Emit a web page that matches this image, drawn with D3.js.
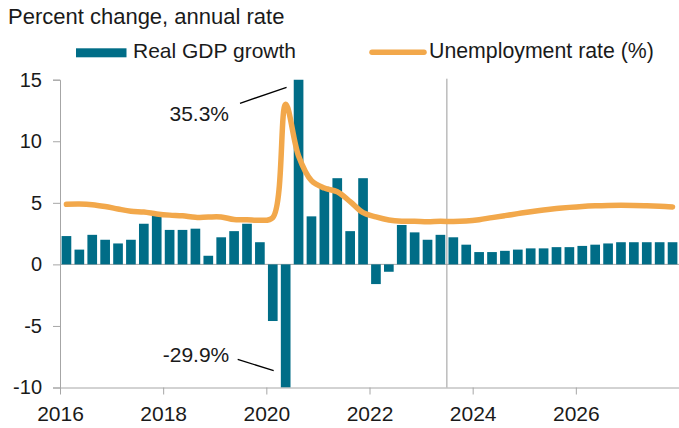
<!DOCTYPE html>
<html>
<head>
<meta charset="utf-8">
<script src="https://cdn.jsdelivr.net/npm/d3@7"></script>
<style>
  html, body { margin: 0; padding: 0; background: #fff; }
  svg { display: block; font-family: "Liberation Sans", Arial, Helvetica, sans-serif; }
</style>
</head>
<body>
<svg id="chart" width="679" height="428"></svg>
<script>
// Quarterly periods, 2016Q1 through 2027Q4
const years = d3.range(2016, 2028);
const quarters = years.flatMap(y => [1, 2, 3, 4].map(q => `${y}Q${q}`));

// Real GDP growth, percent change at an annual rate
const gdpGrowth = [
  2.3, 1.2, 2.4, 2.0,
  1.7, 2.0, 3.3, 4.0,
  2.8, 2.8, 2.9, 0.7,
  2.2, 2.7, 3.3, 1.8,
  -4.6, -29.9, 35.3, 3.9,
  6.3, 7.0, 2.7, 7.0,
  -1.6, -0.6, 3.2, 2.6,
  2.0, 2.4, 2.2, 1.6,
  1.0, 1.0, 1.1, 1.2,
  1.3, 1.3, 1.4, 1.4,
  1.5, 1.6, 1.7, 1.8,
  1.8, 1.8, 1.8, 1.8
];

// Unemployment rate, percent
const unemployment = [
  4.88, 4.9, 4.85, 4.7,
  4.5, 4.32, 4.25, 4.1,
  4.0, 3.95, 3.82, 3.85,
  3.85, 3.64, 3.63, 3.58,
  3.8, 13.0, 8.8, 6.8,
  6.2, 5.9, 5.1, 4.2,
  3.85, 3.6, 3.5, 3.5,
  3.47, 3.5, 3.48, 3.52,
  3.63, 3.8, 3.96, 4.12,
  4.28, 4.42, 4.53, 4.63,
  4.71, 4.76, 4.79, 4.8,
  4.79, 4.77, 4.73, 4.67
];

const yTicks = [-10, -5, 0, 5, 10, 15];
const xTickYears = [2016, 2018, 2020, 2022, 2024, 2026];
const forecastStart = 2023.5;

const title = "Percent change, annual rate";
const seriesNames = ["Real GDP growth", "Unemployment rate (%)"];
const callouts = [
  { quarter: "2020Q3", text: "35.3%" },
  { quarter: "2020Q2", text: "-29.9%" }
];

const BAR = "#006D87";
const LINE = "#F2A84B";
const AXIS = "#A6A6A6";
const TEXT = "#1a1a1a";

const svg = d3.select("#chart");
const plotLeft = 60, plotRight = 679, plotTop = 79.7, plotBottom = 387.5;

const x = d3.scaleBand().domain(quarters).range([plotLeft, plotRight])
  .paddingInner(0.25).paddingOuter(0.125);
const xYear = d3.scaleLinear().domain([2016, 2028]).range([plotLeft, plotRight]);
const y = d3.scaleLinear().domain([-10, 15]).range([plotBottom, plotTop]);

// Title
svg.append("text").attr("x", 8).attr("y", 24.3)
  .attr("font-size", 22).attr("fill", TEXT).text(title);

// Legend
const legend = svg.append("g");
legend.append("rect").attr("x", 76).attr("y", 48.3).attr("width", 50.5).attr("height", 9)
  .attr("fill", BAR);
legend.append("text").attr("x", 133).attr("y", 57.5).attr("font-size", 21)
  .attr("fill", TEXT).text(seriesNames[0]);
legend.append("line").attr("x1", 372).attr("x2", 424).attr("y1", 52.3).attr("y2", 52.3)
  .attr("stroke", LINE).attr("stroke-width", 5.5).attr("stroke-linecap", "round");
legend.append("text").attr("x", 429).attr("y", 58.3).attr("font-size", 21.3)
  .attr("fill", TEXT).text(seriesNames[1]);

// Zero line
svg.append("line").attr("x1", plotLeft).attr("x2", plotRight)
  .attr("y1", y(0)).attr("y2", y(0)).attr("stroke", AXIS).attr("stroke-width", 1);

// Forecast divider
svg.append("line").attr("x1", xYear(forecastStart)).attr("x2", xYear(forecastStart))
  .attr("y1", plotTop - 1).attr("y2", plotBottom).attr("stroke", "#9a9a9a").attr("stroke-width", 1);

// Bars, clipped to the plotted range
svg.append("clipPath").attr("id", "plotClip").append("rect")
  .attr("x", plotLeft).attr("y", plotTop).attr("width", plotRight - plotLeft)
  .attr("height", plotBottom - plotTop);

svg.append("g").attr("clip-path", "url(#plotClip)")
  .selectAll("rect").data(quarters).join("rect")
  .attr("x", d => x(d))
  .attr("width", x.bandwidth())
  .attr("y", (d, i) => y(Math.max(0, gdpGrowth[i])))
  .attr("height", (d, i) => Math.abs(y(gdpGrowth[i]) - y(0)))
  .attr("fill", BAR);

// Unemployment line, smoothed
const line = d3.line()
  .x((d, i) => x(quarters[i]) + x.bandwidth() / 2)
  .y(d => y(d))
  .curve(d3.curveCatmullRom.alpha(0.5));
svg.append("path").datum(unemployment)
  .attr("d", line).attr("fill", "none")
  .attr("stroke", LINE).attr("stroke-width", 5.5)
  .attr("stroke-linejoin", "round").attr("stroke-linecap", "round");

// Y axis
const yAxis = svg.append("g").attr("transform", `translate(${plotLeft},0)`)
  .call(d3.axisLeft(y).tickValues(yTicks).tickSize(7).tickPadding(11).tickFormat(d => String(d)));
yAxis.select(".domain").attr("stroke", AXIS);
yAxis.selectAll(".tick line").attr("stroke", AXIS);
yAxis.selectAll(".tick text").attr("font-size", 20).attr("fill", TEXT)
  .attr("font-family", "'Liberation Sans', Arial, sans-serif");

// X axis along the bottom
const xAxis = svg.append("g").attr("transform", `translate(0,${plotBottom})`)
  .call(d3.axisBottom(xYear).tickValues(xTickYears).tickSize(7).tickPadding(12)
    .tickFormat(d => String(d)).tickSizeOuter(0));
xAxis.select(".domain").attr("stroke", AXIS);
xAxis.selectAll(".tick line").attr("stroke", AXIS);
xAxis.selectAll(".tick text").attr("font-size", 21).attr("fill", TEXT)
  .attr("font-family", "'Liberation Sans', Arial, sans-serif");

// Callouts for the off-scale quarters
const xc = q => x(q) + x.bandwidth() / 2;
const up = callouts[0], down = callouts[1];
svg.append("line").attr("x1", 240).attr("y1", 103.3).attr("x2", xc(up.quarter) - 12).attr("y2", 87.3)
  .attr("stroke", "#000").attr("stroke-width", 1.3);
svg.append("text").attr("x", 229).attr("y", 120.5).attr("text-anchor", "end")
  .attr("font-size", 21).attr("fill", TEXT).text(up.text);
svg.append("line").attr("x1", 237.7).attr("y1", 359.3).attr("x2", xc(down.quarter) - 12).attr("y2", 370.7)
  .attr("stroke", "#000").attr("stroke-width", 1.3);
svg.append("text").attr("x", 229.3).attr("y", 361.7).attr("text-anchor", "end")
  .attr("font-size", 21).attr("fill", TEXT).text(down.text);
</script>
</body>
</html>
